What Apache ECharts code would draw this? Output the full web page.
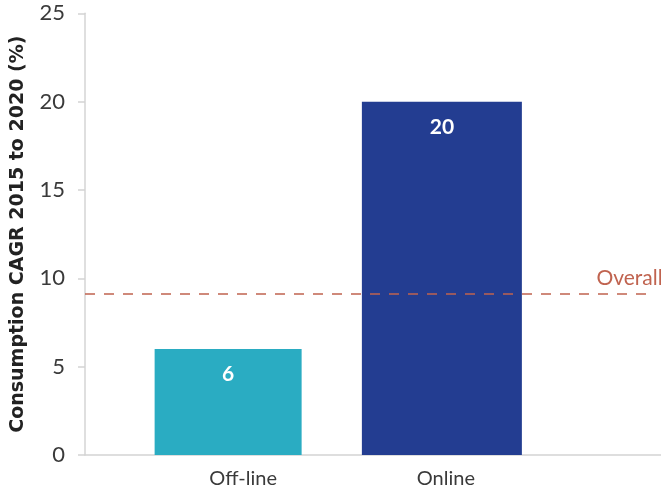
<!DOCTYPE html>
<html>
<head>
<meta charset="utf-8">
<script src="https://cdn.jsdelivr.net/npm/echarts@6/dist/echarts.min.js"></script>
<style>
  html, body { margin: 0; padding: 0; background: #fff; }
  #chart { width: 661px; height: 495px; }
</style>
</head>
<body>
<div id="chart"></div>
<script>
// Consumption growth by channel, with the overall rate as a reference line
const categories = ['Off-line', 'Online'];
const offlineValues = [6, '-'];
const onlineValues = ['-', 20];
const overallValue = 9.1;
const overallLabel = 'Overall';
const yTicks = { min: 0, max: 25, interval: 5 };

const FONT = 'Lato, "Noto Sans", sans-serif';
const NAME_FONT = '"DejaVu Sans", Lato, sans-serif';
const TEAL = '#2aacc2';
const NAVY = '#233d91';
const RED = '#c0634f';
const AXIS_GREY = '#d4d4d4';
const TEXT = '#3a3a3a';

const barLabel = {
  show: true,
  position: 'insideTop',
  distance: 15,
  color: '#ffffff',
  fontFamily: FONT,
  fontWeight: 'bold',
  fontSize: 21
};

const chart = echarts.init(document.getElementById('chart'), null, { renderer: 'canvas' });

chart.setOption({
  animation: false,
  backgroundColor: '#ffffff',
  grid: [
    // bars
    { left: 131, right: 115.5, top: 13.3, bottom: 40 },
    // frame: value axis, baseline and the overall line
    { left: 85, right: 0, top: 13.3, bottom: 40 }
  ],
  xAxis: [
    {
      gridIndex: 0,
      type: 'category',
      data: [
        { value: categories[0], textStyle: { padding: [0, 0, 0, 17] } },
        { value: categories[1], textStyle: { padding: [0, 0, 0, 8] } }
      ],
      axisLine: { show: false },
      axisTick: { show: false },
      axisLabel: { color: TEXT, fontFamily: FONT, fontSize: 20, margin: 14 }
    },
    {
      gridIndex: 1,
      type: 'value',
      min: 0,
      max: 1,
      axisLine: { show: true, lineStyle: { color: AXIS_GREY, width: 1.5 } },
      axisTick: { show: false },
      axisLabel: { show: false },
      splitLine: { show: false }
    }
  ],
  yAxis: [
    {
      gridIndex: 0,
      type: 'value',
      min: yTicks.min,
      max: yTicks.max,
      interval: yTicks.interval,
      show: false
    },
    {
      gridIndex: 1,
      type: 'value',
      min: yTicks.min,
      max: yTicks.max,
      interval: yTicks.interval,
      name: 'Consumption CAGR 2015 to 2020 (%)',
      nameLocation: 'middle',
      nameGap: 57,
      nameTextStyle: { color: '#222', fontFamily: NAME_FONT, fontWeight: 'bold', fontSize: 19 },
      axisLine: { show: true, lineStyle: { color: AXIS_GREY, width: 1.5 } },
      axisTick: { show: true, inside: false, length: 7, lineStyle: { color: AXIS_GREY, width: 1.5 } },
      axisLabel: { color: TEXT, fontFamily: FONT, fontSize: 22, margin: 20 },
      splitLine: { show: false }
    }
  ],
  series: [
    {
      name: categories[0],
      type: 'bar',
      xAxisIndex: 0,
      yAxisIndex: 0,
      data: offlineValues,
      barWidth: 147,
      barGap: '-100%',
      itemStyle: { color: TEAL },
      label: barLabel
    },
    {
      name: categories[1],
      type: 'bar',
      xAxisIndex: 0,
      yAxisIndex: 0,
      data: onlineValues,
      barWidth: 160,
      barGap: '-100%',
      itemStyle: { color: NAVY },
      label: barLabel
    },
    {
      name: overallLabel,
      type: 'line',
      xAxisIndex: 1,
      yAxisIndex: 1,
      data: [],
      z: 10,
      markLine: {
        silent: true,
        symbol: ['none', 'none'],
        lineStyle: { color: RED, width: 1.5, type: [10, 9] },
        label: {
          show: true,
          position: 'insideEndTop',
          distance: [-16, 5],
          formatter: overallLabel,
          color: RED,
          fontFamily: FONT,
          fontSize: 21
        },
        data: [[
          { coord: [0, overallValue] },
          { coord: [0.975, overallValue] }
        ]]
      }
    }
  ]
});
</script>
</body>
</html>
